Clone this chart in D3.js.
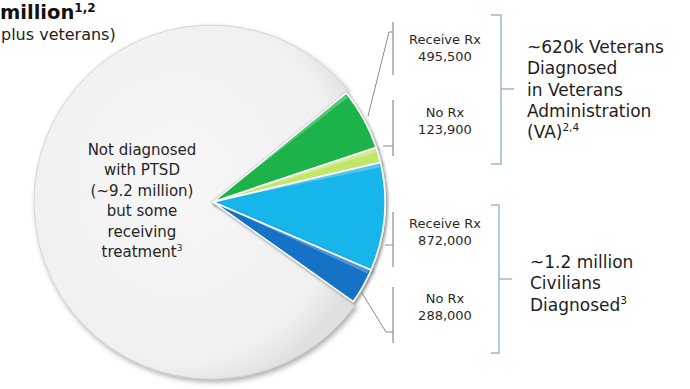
<!DOCTYPE html>
<html><head><meta charset="utf-8">
<script src="https://cdn.jsdelivr.net/npm/d3@7"></script>
<style>
html,body{margin:0;padding:0;background:#fff;}
svg{display:block;font-family:"DejaVu Sans",Verdana,sans-serif;}
</style></head>
<body><svg id="c" width="690" height="389"></svg>
<script>
// ---- data ----
const categories = ["VA Receive Rx", "VA No Rx", "Civilian Receive Rx", "Civilian No Rx", "Not diagnosed"];
// slice sizes; the "not diagnosed" slice is read from its drawn angle (~285°)
const values = [495500, 123900, 872000, 288000, 6800000];
const sliceLabels = [["Receive Rx", "495,500"], ["No Rx", "123,900"], ["Receive Rx", "872,000"], ["No Rx", "288,000"]];
const centerLabel = ["Not diagnosed", "with PTSD", "(~9.2 million)", "but some", "receiving", "treatment³"];
const groupLabels = [["~620k Veterans", "Diagnosed", "in Veterans", "Administration", "(VA)²˒⁴"], ["~1.2 million", "Civilians", "Diagnosed³"]];
const colors = ["#1cb34b", "#c3e66a", "#15b5ec", "#1272c7", "url(#grayGrad)"];

const svg = d3.select("#c");
const defs = svg.append("defs");
const gg = defs.append("radialGradient").attr("id", "grayGrad").attr("cx", "45%").attr("cy", "45%").attr("r", "60%");
gg.append("stop").attr("offset", "0%").attr("stop-color", "#f7f7f7");
gg.append("stop").attr("offset", "85%").attr("stop-color", "#f0f0f0");
gg.append("stop").attr("offset", "100%").attr("stop-color", "#e0e0e0");
const sh = defs.append("filter").attr("id", "shadow").attr("x", "-20%").attr("y", "-20%").attr("width", "140%").attr("height", "140%");
sh.append("feDropShadow").attr("dx", 2).attr("dy", 3).attr("stdDeviation", 2.5).attr("flood-color", "#555").attr("flood-opacity", 0.45);
const sh2 = defs.append("filter").attr("id", "shadow2").attr("x", "-20%").attr("y", "-20%").attr("width", "140%").attr("height", "140%");
sh2.append("feDropShadow").attr("dx", 2).attr("dy", 2).attr("stdDeviation", 1.5).attr("flood-color", "#333").attr("flood-opacity", 0.5);

const cx = 213, cy = 202;
const deg = Math.PI / 180;
const start = 50.7 * deg;
const pie = d3.pie().sort(null).value(d => d).startAngle(start).endAngle(start + 2 * Math.PI);
const arcs = pie(values);

const g = svg.append("g").attr("transform", `translate(${cx},${cy})`);
const arcGray = d3.arc().innerRadius(0).outerRadius(177);
const arcCol = d3.arc().innerRadius(0).outerRadius(172);

// gray slice
g.append("path").datum(arcs[4]).attr("d", arcGray)
  .attr("fill", colors[4]).attr("stroke", "#d4d4d4").attr("stroke-width", 1)
  .attr("filter", "url(#shadow)").attr("transform", "translate(-2,0)");

// colored slices
g.selectAll("path.col").data(arcs.slice(0, 4)).join("path").attr("class", "col")
  .attr("d", arcCol).attr("fill", (d, i) => colors[i])
  .attr("stroke", "#fff").attr("stroke-width", 1.6).attr("stroke-linejoin", "round")
  .attr("filter", "url(#shadow2)");
// subtle highlight on upper edge
const hl = d3.arc().innerRadius(0).outerRadius(170);
g.selectAll("path.hl").data(arcs.slice(0, 4)).join("path").attr("class", "hl")
  .attr("d", d => hl({startAngle: d.startAngle + 0.2 * deg, endAngle: d.startAngle + 1.6 * deg}))
  .attr("fill", "#fff").attr("opacity", 0.25);

// centre label
const tl = svg.append("text").attr("text-anchor", "middle").attr("font-size", 15).attr("fill", "#262626");
centerLabel.forEach((s, i) => {
  const t = tl.append("tspan").attr("x", 142).attr("y", 155 + i * 20.4);
  if (s.endsWith("³")) { t.text(s.slice(0, -1)); t.append("tspan").attr("font-size", 9).attr("dy", -6).text("3"); }
  else t.text(s);
});

// leaders
const lc = "#8a8a8a";
const pt = (a, r) => [cx + r * Math.sin(a), cy - r * Math.cos(a)];
const mid = d => (d.startAngle + d.endAngle) / 2;
const line = d3.line();
const p0 = pt(mid(arcs[0]), 177), p3 = pt(mid(arcs[3]) + 2 * deg, 174);
const bx = 393;
const leaders = [
  [p0, [389, 32], [bx, 32]],
  [[383, 146], [bx, 146]],
  [[385, 245], [bx, 245]],
  [p3, [386, 332], [bx, 332]]
];
const brackets = [[22, 75], [100, 156], [212, 267], [287, 343]];
leaders.forEach(l => svg.append("path").attr("d", line(l)).attr("fill", "none").attr("stroke", lc).attr("stroke-width", 1));
brackets.forEach(b => svg.append("line").attr("x1", bx).attr("x2", bx).attr("y1", b[0]).attr("y2", b[1]).attr("stroke", lc).attr("stroke-width", 1.2));

// slice value labels
const labY = [44, 117, 228, 303];
sliceLabels.forEach((l, i) => {
  const t = svg.append("text").attr("text-anchor", "middle").attr("font-size", 13).attr("fill", "#2a2a2a");
  l.forEach((s, j) => t.append("tspan").attr("x", 445).attr("y", labY[i] + j * 17).text(s));
});

// group brackets
const bc = "#9cb6d3";
const gb = [[15, 164, 89, 501], [205, 353, 279, 499]];
gb.forEach(b => {
  svg.append("path").attr("d", line([[491, b[0]], [b[3], b[0]], [b[3], b[1]], [491, b[1]]]))
    .attr("fill", "none").attr("stroke", bc).attr("stroke-width", 1.5);
  svg.append("line").attr("x1", b[3]).attr("x2", b[3] + 13).attr("y1", b[2]).attr("y2", b[2]).attr("stroke", bc).attr("stroke-width", 1.5);
});
const gy = [53, 268], gx = [527, 530];
groupLabels.forEach((l, i) => {
  const t = svg.append("text").attr("font-size", 17).attr("fill", "#1e1e1e");
  l.forEach((s, j) => {
    const ts = t.append("tspan").attr("x", gx[i]).attr("y", gy[i] + j * 21.3);
    const m = s.match(/^(.*?)([²³˒⁴]+)$/);
    if (m) {
      ts.text(m[1]);
      const sup = m[2].replace(/²/g, "2").replace(/³/g, "3").replace(/⁴/g, "4").replace(/˒/g, ",");
      t.append("tspan").attr("font-size", 10.5).attr("dy", -7).text(sup);
    } else ts.text(s);
  });
});

// title fragments
const tt = svg.append("text").attr("x", 0).attr("y", 19).attr("font-size", 19.5).attr("font-weight", "bold").attr("fill", "#111");
tt.append("tspan").text("million");
tt.append("tspan").attr("font-size", 12).attr("dy", -7).text("1,2");
svg.append("text").attr("x", 1).attr("y", 40).attr("font-size", 16).attr("fill", "#222").text("plus veterans)");
</script></body></html>
